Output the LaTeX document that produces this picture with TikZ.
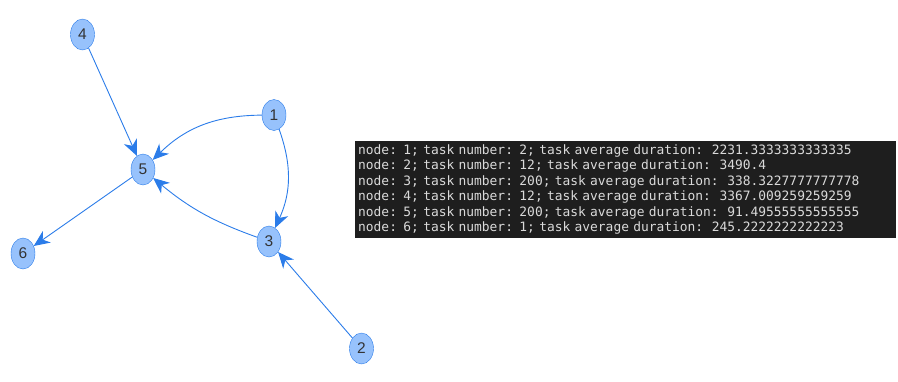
\documentclass[tikz,border=0pt]{standalone}
\usepackage{fontspec}
\setmainfont{Liberation Sans}
\newfontfamily\termfont{DejaVu Sans Mono}
\usetikzlibrary{arrows.meta,shapes.geometric}
\definecolor{taskfill}{HTML}{97C2FC}
\definecolor{taskblue}{HTML}{2B7CE9}
\definecolor{termbg}{HTML}{1E1E1E}
\definecolor{termtext}{HTML}{DADADA}
\tikzset{
x=1pt, y=-1pt, % pixel units, y pointing down
task/.style={ellipse, draw=taskblue, fill=taskfill, text=black!80, inner sep=0pt, minimum width=24pt, minimum height=31pt, font=\fontsize{15.5}{17}\selectfont}, % the graph nodes
link/.style={-{Stealth[length=16pt,width=14pt,inset=5pt]}, draw=taskblue, line width=0.9pt}, % the edges, with filled arrow heads
termbox/.style={fill=termbg, text=termtext, align=left, text width=535pt, inner xsep=3pt, minimum height=94pt, font=\termfont\fontsize{12.9}{15.5}\selectfont}, % the log output
}

\begin{document}
\begin{tikzpicture}
		\useasboundingbox (0,0) rectangle (898,381);
		\node[task] (4) at (82.5,34.5) {4};
		\node[task] (1) at (274,115) {1};
		\node[task] (5) at (143,169.5) {5};
		\node[task] (3) at (269,241.5) {3};
		\node[task] (6) at (23,253.5) {6};
		\node[task] (2) at (361.5,348.5) {2};
		\draw (4) edge[link] (5)
		(1) edge[link, bend right=22] (5)
		(1) edge[link, bend left=22] (3)
		(3) edge[link, bend left=10] (5)
		(5) edge[link] (6)
		(2) edge[link] (3);
		\node[termbox, anchor=north west] (log) at (355,141) {%
node: 1; task number: 2; task average duration:\ \ 2231.3333333333335\\
node: 2; task number: 12; task average duration:\ \ 3490.4\\
node: 3; task number: 200; task average duration:\ \ 338.3227777777778\\
node: 4; task number: 12; task average duration:\ \ 3367.009259259259\\
node: 5; task number: 200; task average duration:\ \ 91.49555555555555\\
node: 6; task number: 1; task average duration:\ \ 245.2222222222223};
	\end{tikzpicture}
\end{document}
